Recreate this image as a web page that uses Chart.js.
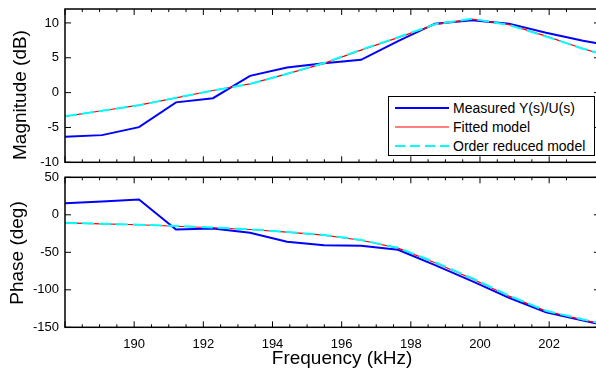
<!DOCTYPE html>
<html>
<head>
<meta charset="utf-8">
<script src="https://cdn.jsdelivr.net/npm/chart.js@4.4.0/dist/chart.umd.min.js"></script>
<style>
  html, body { margin: 0; padding: 0; background: #fff; overflow: hidden; }
  #wrap { position: relative; width: 596px; height: 371px; overflow: hidden; font-family: "Liberation Sans", Arial, sans-serif; color: #000; }
  canvas { position: absolute; left: 0; }
  #magChart { top: 0; }
  #phaseChart { top: 170px; }
  .ytitle { position: absolute; width: 220px; height: 20px; line-height: 20px; font-size: 19px; text-align: center; transform: rotate(-90deg); white-space: nowrap; }
  #xtitle { position: absolute; left: 242px; width: 200px; top: 348px; height: 20px; line-height: 20px; font-size: 19px; text-align: center; white-space: nowrap; }
  #legend { position: absolute; left: 388px; top: 96px; width: 205px; height: 58px; border: 1.5px solid #000; background: #fff; }
  .row { position: absolute; left: 0; height: 18px; font-size: 14px; line-height: 18px; white-space: nowrap; }
  .row svg { position: absolute; left: 6px; top: 0; }
  .row span { position: absolute; left: 64px; top: 0; }
</style>
</head>
<body>
<div id="wrap">
  <canvas id="magChart" width="602" height="170"></canvas>
  <canvas id="phaseChart" width="602" height="201"></canvas>
  <div class="ytitle" style="left:-90px; top:85px;">Magnitude (dB)</div>
  <div class="ytitle" style="left:-93px; top:243px;">Phase (deg)</div>
  <div id="xtitle">Frequency (kHz)</div>
  <div id="legend"></div>
</div>
<script>
// frequency points (kHz)
const freq = [188.00, 189.07, 190.14, 191.21, 192.28, 193.35, 194.42, 195.49, 196.56, 197.63, 198.70, 199.77, 200.84, 201.91, 202.98, 203.47];

// magnitude (dB)
const magMeasured = [-6.35, -6.1, -4.95, -1.4, -0.8, 2.4, 3.6, 4.2, 4.7, 7.4, 9.9, 10.4, 9.9, 8.6, 7.45, 7.0];
const magFitted   = [-3.4, -2.6, -1.8, -0.75, 0.3, 1.25, 2.7, 4.2, 6.1, 7.9, 9.75, 10.55, 9.75, 8.1, 6.3, 5.6];
const magReduced  = [-3.4, -2.6, -1.8, -0.75, 0.3, 1.25, 2.7, 4.25, 6.15, 7.95, 9.8, 10.6, 9.7, 8.05, 6.3, 5.6];

// phase (deg)
const phaseMeasured = [15.5, 17.7, 20.4, -19.6, -18.3, -24, -36, -40.5, -41.3, -46.7, -67.2, -88.5, -110.7, -129.9, -141, -146];
const phaseFitted   = [-10.7, -12, -13.3, -15.3, -17.3, -19.6, -23.2, -27.2, -33.9, -44.5, -64, -85.3, -108.5, -128.5, -140, -145];
const phaseReduced  = [-10.7, -12, -13.2, -15.0, -17.0, -19.4, -22.8, -26.8, -33.5, -44.0, -63.2, -84.5, -107.8, -128.0, -139.5, -144.5];

const seriesLabels = ['Measured Y(s)/U(s)', 'Fitted model', 'Order reduced model'];
const seriesColors = ['#0000ff', '#ff0000', '#00ffff'];
const magTicks = [-10, -5, 0, 5, 10];
const phaseTicks = [-150, -100, -50, 0, 50];
const freqLabels = [190, 192, 194, 196, 198, 200, 202];

function pts(ys) {
  return freq.map((f, i) => ({ x: f, y: ys[i] }));
}

function makeDatasets(meas, fit, red) {
  return [
    { label: seriesLabels[0], data: pts(meas), borderColor: seriesColors[0], borderWidth: 2, order: 2 },
    { label: seriesLabels[1], data: pts(fit), borderColor: seriesColors[1], borderWidth: 1.2, order: 1 },
    { label: seriesLabels[2], data: pts(red), borderColor: seriesColors[2], borderWidth: 2, borderDash: [12, 5], order: 0 }
  ];
}

function isMajor(v) {
  return Math.abs(v / 2 - Math.round(v / 2)) < 1e-6;
}

// matlab-like box with ticks pointing inwards
const frameTicks = {
  id: 'frameTicks',
  afterDatasetsDraw(chart) {
    const { ctx, chartArea: a, scales: { x, y } } = chart;
    ctx.save();
    ctx.strokeStyle = '#000';
    ctx.lineWidth = 1;
    ctx.beginPath();
    x.ticks.forEach(t => {
      const px = x.getPixelForValue(t.value);
      const len = isMajor(t.value) ? 6 : 3;
      ctx.moveTo(px, a.bottom); ctx.lineTo(px, a.bottom - len);
      ctx.moveTo(px, a.top); ctx.lineTo(px, a.top + len);
    });
    y.ticks.forEach(t => {
      const py = y.getPixelForValue(t.value);
      ctx.moveTo(a.left, py); ctx.lineTo(a.left + 6, py);
      ctx.moveTo(a.right, py); ctx.lineTo(a.right - 6, py);
    });
    ctx.stroke();
    ctx.lineWidth = 1.5;
    ctx.strokeRect(a.left, a.top, a.right - a.left, a.bottom - a.top);
    ctx.restore();
  }
};

const tickFont = { family: '"Liberation Sans", Arial, sans-serif', size: 13 };

// scales reserve room for half their end labels; drop that so the box can be placed freely
function noPad(s) {
  s.paddingTop = 0; s.paddingBottom = 0; s.paddingLeft = 0; s.paddingRight = 0;
}

function baseOptions(yMin, yMax, yStep, showX, xHeight, pad) {
  return {
    responsive: false,
    animation: false,
    layout: { padding: pad },
    elements: { point: { radius: 0 }, line: { tension: 0 } },
    plugins: { legend: { display: false }, tooltip: { enabled: false } },
    scales: {
      x: {
        type: 'linear', min: 188, max: 203.47,
        grid: { display: false, drawTicks: false },
        border: { display: false },
        ticks: {
          display: showX, stepSize: 0.5, autoSkip: false, maxRotation: 0, minRotation: 0,
          padding: 9, color: '#000', font: tickFont,
          callback: v => (isMajor(v) && freqLabels.includes(Math.round(v))) ? Math.round(v) : ''
        },
        afterFit: s => { s.height = xHeight; noPad(s); }
      },
      y: {
        min: yMin, max: yMax,
        grid: { display: false, drawTicks: false },
        border: { display: false },
        ticks: { stepSize: yStep, includeBounds: false, padding: 6, color: '#000', font: tickFont },
        afterFit: s => { s.width = 65; noPad(s); }
      }
    }
  };
}

// nudge the layout padding until the plot box sits where the reference has it
function pinArea(chart, target) {
  const pad = Object.assign({}, chart.config.options.layout.padding);
  for (let k = 0; k < 3; k++) {
    const a = chart.chartArea;
    pad.left += target.left - a.left;
    pad.top += target.top - a.top;
    pad.right += a.right - target.right;
    pad.bottom += a.bottom - target.bottom;
    chart.config.options.layout.padding = Object.assign({}, pad);
    chart.update();
  }
}

const magChart = new Chart(document.getElementById('magChart'), {
  type: 'line',
  data: { datasets: makeDatasets(magMeasured, magFitted, magReduced) },
  options: baseOptions(magTicks[0], 12, 5, false, 0, { top: 9, bottom: 7.7, left: 0, right: 2 }),
  plugins: [frameTicks]
});
pinArea(magChart, { left: 65, right: 600, top: 9, bottom: 162.3 });

const phaseChart = new Chart(document.getElementById('phaseChart'), {
  type: 'line',
  data: { datasets: makeDatasets(phaseMeasured, phaseFitted, phaseReduced) },
  options: baseOptions(phaseTicks[0], phaseTicks[phaseTicks.length - 1], 50, true, 43.7, { top: 7.3, bottom: 0, left: 0, right: 2 }),
  plugins: [frameTicks]
});
pinArea(phaseChart, { left: 65, right: 600, top: 7.3, bottom: 157.3 });

// legend inside the magnitude plot
const legend = document.getElementById('legend');
const rowMids = [11, 30, 49];
seriesLabels.forEach((lab, i) => {
  const row = document.createElement('div');
  row.className = 'row';
  row.style.top = (rowMids[i] - 9) + 'px';
  row.style.width = '205px';
  const dash = i === 2 ? 'stroke-dasharray="10 5"' : '';
  const w = i === 1 ? 1.2 : 2;
  row.innerHTML = '<svg width="54" height="18"><line x1="0" y1="9" x2="54" y2="9" stroke="' + seriesColors[i] +
    '" stroke-width="' + w + '" ' + dash + '/></svg><span>' + lab + '</span>';
  legend.appendChild(row);
});
</script>
</body>
</html>
